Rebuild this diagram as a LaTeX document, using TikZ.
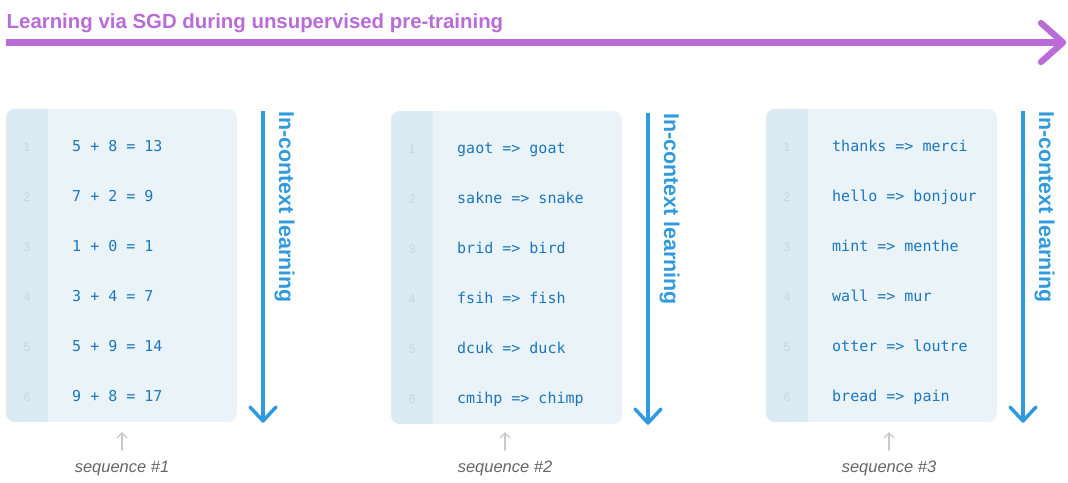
\documentclass[tikz,border=0pt]{standalone}
\usepackage{fontspec}
\setmainfont{Liberation Sans}
\newfontfamily\codefont{DejaVu Sans Mono}
\usetikzlibrary{calc}
\definecolor{titlepurple}{HTML}{B96BD8}
\definecolor{arrowblue}{HTML}{2F9BDE}
\definecolor{codeblue}{HTML}{1C78BE}
\definecolor{boxbg}{HTML}{EAF3F7}
\definecolor{gutterbg}{HTML}{DCEBF3}
\definecolor{lnumgray}{HTML}{C8D6DF}
\definecolor{seqgray}{HTML}{666666}
\definecolor{smallgray}{HTML}{C8C8C8}
\tikzset{
  titletext/.style={font=\bfseries\fontsize{20.4}{24}\selectfont, text=titlepurple, inner sep=0pt, anchor=base west},
  purplearrow/.style={draw=titlepurple, line width=6.3pt, line join=round},
  bluearrow/.style={draw=arrowblue, line width=3.5pt, line join=round},
  code/.style={font=\codefont\fontsize{15}{18}\selectfont, text=codeblue, inner sep=0pt, anchor=base west},
  lnum/.style={font=\fontsize{12.5}{14}\selectfont, text=lnumgray, inner sep=0pt, anchor=base},
  vlabel/.style={font=\bfseries\fontsize{21.4}{24}\selectfont, text=arrowblue, inner sep=0pt, anchor=base west, rotate=-90},
  seqlabel/.style={font=\itshape\fontsize{16.5}{19}\selectfont, text=seqgray, inner sep=0pt, anchor=base},
  smallarrow/.style={draw=smallgray, line width=1.2pt, line cap=round, line join=round}
}
\newcommand\seqbox[4]{%
\begin{scope}[shift={(#2,#3)}]
  \begin{scope}
    \clip[rounded corners=9pt] (0,0) rectangle (231,313);
    \fill[boxbg] (0,0) rectangle (231,313);
    \fill[gutterbg] (0,0) rectangle (42,313);
  \end{scope}
  \foreach \t [count=\i] in {#4} {
    \node[lnum] (#1n\i) at (21,{42+50*(\i-1)}) {\i};
    \node[code] (#1c\i) at (66,{42+50*(\i-1)}) {\t};
  }
  \coordinate (#1a) at (257,2);
  \coordinate (#1b) at (257,312);
  \draw[bluearrow] (#1a) -- ($(#1b)+(0,-1)$);
  \draw[bluearrow, line cap=round] ($(#1b)+(-13,-14)$) -- (#1b) -- ($(#1b)+(13,-14)$);
  \node[vlabel] (#1v) at (273,2) {In-context learning};
\end{scope}}
\newcommand\seqlab[3]{%
  \coordinate (#1f) at (#2,450);
  \coordinate (#1t) at (#2,433);
  \draw[smallarrow] (#1f) -- (#1t);
  \draw[smallarrow] ($(#1t)+(-5,5)$) -- (#1t) -- ($(#1t)+(5,5)$);
  \node[seqlabel] (#1l) at (#2,472) {#3};
}
\begin{document}
\begin{tikzpicture}[x=1pt,y=-1pt]
\useasboundingbox (0,0) rectangle (1068,482);
\fill[white] (0,0) rectangle (1068,482);
\node[titletext] (title) at (6.5,28.5) {Learning via SGD during unsupervised pre-training};
\coordinate (ps) at (6,42.5);
\coordinate (pe) at (1063,42.5);
\draw[purplearrow] (ps) -- ($(pe)+(-2,0)$);
\draw[purplearrow, line cap=round] ($(pe)+(-22,-19.5)$) -- (pe) -- ($(pe)+(-22,19.5)$);
\seqbox{a}{6}{109}{5 + 8 = 13, 7 + 2 = 9, 1 + 0 = 1, 3 + 4 = 7, 5 + 9 = 14, 9 + 8 = 17}
\seqbox{b}{391}{111}{gaot => goat, sakne => snake, brid => bird, fsih => fish, dcuk => duck, cmihp => chimp}
\seqbox{c}{766}{109}{thanks => merci, hello => bonjour, mint => menthe, wall => mur, otter => loutre, bread => pain}
\seqlab{s1}{122}{sequence \#1}
\seqlab{s2}{505}{sequence \#2}
\seqlab{s3}{889}{sequence \#3}
\end{tikzpicture}
\end{document}
